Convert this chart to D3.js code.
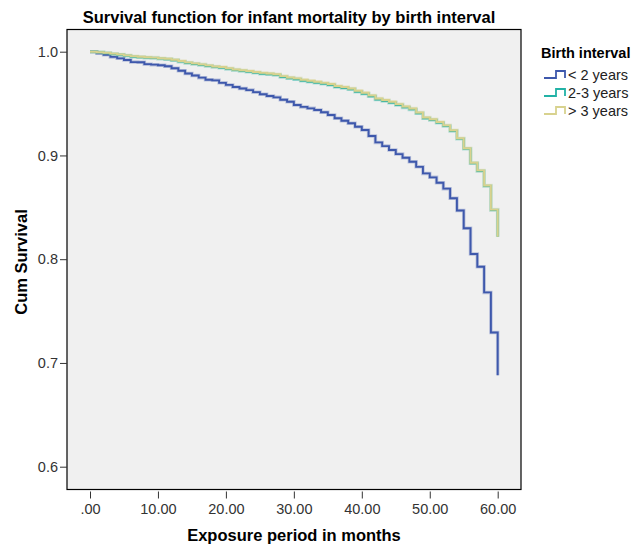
<!DOCTYPE html>
<html><head><meta charset="utf-8">
<script src="https://cdn.jsdelivr.net/npm/d3@7"></script>
<style>body{margin:0;background:#fff;font-family:"Liberation Sans",Arial,sans-serif}</style>
</head><body><svg id="c" width="632" height="545"></svg>
<script>
const months = d3.range(0, 61);
const seriesNames = ["< 2 years", "2-3 years", "> 3 years"];
const lt2 = [1.0,0.9985,0.997,0.995,0.9936,0.992,0.990,0.9898,0.988,0.9875,0.987,0.986,0.984,0.9817,0.979,0.977,0.975,0.973,0.9724,0.970,0.968,0.966,0.9645,0.963,0.961,0.959,0.9573,0.956,0.9537,0.9518,0.9486,0.9468,0.9454,0.9438,0.9416,0.939,0.9358,0.9335,0.931,0.9277,0.9245,0.9187,0.9126,0.909,0.9052,0.9013,0.8978,0.894,0.889,0.8827,0.8789,0.8737,0.868,0.8588,0.847,0.8298,0.805,0.7927,0.768,0.7294,0.6882];
const b23 = [1.0,0.9994,0.9987,0.9978,0.9971,0.9961,0.9952,0.9946,0.9942,0.9939,0.9933,0.9927,0.9917,0.9904,0.9891,0.9881,0.9872,0.9862,0.9852,0.9846,0.9833,0.9822,0.9814,0.9807,0.9797,0.9788,0.9782,0.9775,0.9756,0.9743,0.9734,0.972,0.9711,0.9701,0.9691,0.9679,0.966,0.965,0.9637,0.9614,0.9595,0.957,0.954,0.9525,0.9508,0.9486,0.9463,0.9444,0.9406,0.9358,0.9341,0.9315,0.9283,0.9236,0.916,0.9065,0.8924,0.885,0.8705,0.8474,0.8216];
const gt3 = [1.0,0.9995,0.9989,0.9981,0.9974,0.9965,0.9957,0.9951,0.9947,0.9943,0.9937,0.9932,0.9923,0.9910,0.9897,0.9887,0.9878,0.9868,0.9858,0.9852,0.9840,0.9829,0.9821,0.9814,0.9805,0.9796,0.9790,0.9783,0.9765,0.9752,0.9743,0.9729,0.9720,0.9710,0.9700,0.9688,0.9670,0.9660,0.9646,0.9623,0.9604,0.9579,0.9549,0.9534,0.9517,0.9495,0.9472,0.9452,0.9414,0.9366,0.9349,0.9322,0.9290,0.9243,0.9166,0.9070,0.8930,0.8856,0.8710,0.8478,0.8216];
const xTicks = [0,10,20,30,40,50,60];
const yTicks = [0.6,0.7,0.8,0.9,1.0];
const colors = ["#3e58ac","#22b2a6","#d8d28e"];

const svg = d3.select("#c");
const x = d3.scaleLinear().domain([0,60]).range([90,497.7]);
const y = d3.scaleLinear().domain([0.6,1.0]).range([466.7,51.7]);
const L=67, R=521, T=29.5, B=489.5;

svg.append("rect").attr("x",L).attr("y",T).attr("width",R-L).attr("height",B-T)
  .attr("fill","#f0f0f0").attr("stroke","#000").attr("stroke-width",1.2);

const yAxis = svg.append("g").attr("transform",`translate(${L},0)`)
  .call(d3.axisLeft(y).tickValues(yTicks).tickFormat(d3.format(".1f")).tickSize(7).tickPadding(2));
yAxis.select(".domain").remove();
const xAxis = svg.append("g").attr("transform",`translate(0,${B+2})`)
  .call(d3.axisBottom(x).tickValues(xTicks).tickFormat(d=>d===0?".00":d.toFixed(2)).tickSize(7).tickPadding(5));
xAxis.select(".domain").remove();
svg.selectAll(".tick text").attr("font-size",14.5).attr("fill","#333").attr("font-family","Liberation Sans, Arial, sans-serif");
svg.selectAll(".tick line").attr("stroke","#333");

const data = [lt2,b23,gt3];
const line = d3.line().curve(d3.curveStepAfter).x((d,i)=>x(months[i])).y(d=>y(d));
data.forEach((s,k)=>{
  svg.append("path").attr("d",line(s)).attr("fill","none").attr("stroke",colors[k]).attr("stroke-opacity",0.3).attr("stroke-width",3.5);
  svg.append("path").attr("d",line(s)).attr("fill","none").attr("stroke",colors[k]).attr("stroke-width",1.9);
});

svg.append("text").attr("x",289).attr("y",23).attr("text-anchor","middle")
  .attr("font-size",16.5).attr("font-weight","bold").text("Survival function for infant mortality by birth interval");
svg.append("text").attr("transform","translate(27,262) rotate(-90)").attr("text-anchor","middle")
  .attr("font-size",16.5).attr("font-weight","bold").text("Cum Survival");
svg.append("text").attr("x",294).attr("y",541).attr("text-anchor","middle")
  .attr("font-size",16.5).attr("font-weight","bold").text("Exposure period in months");

svg.append("text").attr("x",541).attr("y",58).attr("font-size",14.5).attr("font-weight","bold").text("Birth interval");
seriesNames.forEach((n,k)=>{
  const cy = 75 + k*18;
  svg.append("path").attr("d",`M544,${cy+3}H556V${cy-4}H565V${cy+3}`).attr("fill","none").attr("stroke",colors[k]).attr("stroke-width",1.8);
  svg.append("text").attr("x",568).attr("y",cy+5).attr("font-size",14.5).attr("fill","#222").text(n);
});
</script></body></html>
